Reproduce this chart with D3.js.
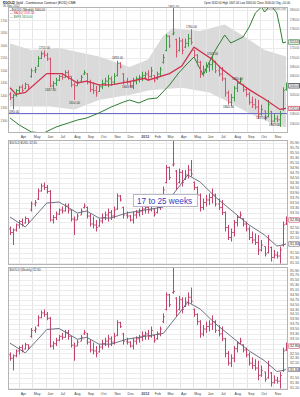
<!DOCTYPE html>
<html><head><meta charset="utf-8">
<script src="https://cdn.jsdelivr.net/npm/d3@7/dist/d3.min.js"></script>
<style>
body{margin:0;background:#fff}
svg{display:block}
text{font-family:"Liberation Sans",Arial,sans-serif}
</style>
</head><body>
<svg id="c" width="300" height="397"></svg>
<script>
// ---------------- DATA (weekly bars) ----------------
const opens  = [1622,1615,1620,1630,1637,1634,1643,1660,1672,1682,1698,1708,1705,1697,1640,1645,1652,1660,1658,1668,1660,1642,1640,1650,1665,1665,1648,1632,1630,1628,1638,1645,1650,1655,1648,1662,1688,1665,1650,1648,1640,1650,1655,1658,1662,1665,1660,1662,1655,1665,1690,1715,1745,1750,1738,1715,1735,1722,1730,1740,1715,1705,1690,1665,1675,1680,1685,1690,1672,1665,1655,1625,1605,1615,1635,1645,1643,1632,1622,1605,1600,1595,1580,1587,1575,1585,1565,1570,1568,1590,1632];
const highs  = [1627,1623,1633,1640,1643,1647,1643,1677,1680,1703,1713,1715,1710,1700,1650,1657,1663,1667,1673,1673,1660,1647,1653,1663,1673,1667,1653,1647,1640,1643,1653,1657,1663,1660,1667,1693,1690,1667,1657,1650,1657,1660,1663,1670,1670,1673,1680,1663,1670,1680,1707,1750,1747,1805,1740,1743,1740,1740,1750,1760,1717,1707,1693,1683,1690,1693,1703,1693,1683,1680,1657,1630,1623,1640,1650,1657,1643,1637,1627,1617,1613,1610,1600,1587,1610,1587,1580,1577,1587,1637,1647];
const lows   = [1610,1590,1617,1623,1627,1633,1633,1657,1667,1680,1697,1700,1693,1637,1633,1640,1650,1653,1657,1653,1637,1610,1640,1650,1663,1643,1627,1623,1617,1627,1633,1640,1637,1640,1643,1660,1677,1643,1643,1637,1633,1643,1647,1650,1653,1653,1657,1647,1653,1660,1687,1713,1720,1747,1700,1713,1707,1720,1723,1727,1700,1683,1657,1660,1667,1670,1673,1667,1660,1650,1617,1600,1597,1607,1627,1643,1627,1617,1600,1593,1590,1570,1577,1567,1573,1557,1563,1563,1553,1587,1630];
const closes = [1615,1620,1630,1637,1630,1643,1638,1672,1675,1698,1708,1705,1697,1640,1645,1652,1660,1658,1668,1660,1642,1640,1648,1658,1668,1648,1632,1630,1625,1638,1645,1650,1655,1648,1660,1688,1680,1650,1648,1640,1650,1655,1658,1662,1665,1660,1672,1652,1665,1675,1700,1745,1725,1752,1712,1735,1715,1730,1740,1732,1705,1690,1665,1675,1680,1685,1690,1672,1665,1655,1625,1605,1615,1635,1645,1650,1632,1622,1605,1600,1595,1580,1590,1572,1600,1565,1570,1568,1580,1630,1640];
const firstWeek = new Date(2011, 2, 11);

// moving averages as [bar index, value]
const maTop   = [[0,1636],[2,1622],[5,1626],[12,1666],[17,1666],[22,1646],[25,1650],[29,1642],[33,1642],[38,1648],[44,1656],[45,1652],[52,1666],[56,1682],[60,1722],[66,1696],[69,1676],[75,1646],[78,1632],[83,1612],[88,1590],[90,1592]];
const maLower = [[0,1646],[5,1626],[12,1674],[16,1676],[22,1654],[25,1658],[29,1644],[33,1644],[38,1654],[44,1660],[50,1666],[58,1730],[62,1716],[67,1686],[74,1650],[78,1630],[83,1610],[87,1588],[89,1590],[90,1592]];
// comparison line ($SPX) as [bar index, value]
const spx = [[0,1310],[3,1282],[7,1254],[11,1250],[15,1274],[19,1290],[22,1302],[25,1310],[29,1330],[33,1354],[37,1374],[39,1382],[42,1370],[45,1386],[48,1390],[52,1442],[55,1490],[58,1530],[60,1554],[63,1482],[65,1534],[67,1582],[70,1642],[72,1610],[76,1634],[78,1674],[80,1730],[82,1754],[83,1734],[85,1762],[87,1730],[88,1674],[89,1610],[90,1614]];
// price envelope as [bar index, value]
const bandUpper = [[0,1730],[7,1716],[16,1720],[29,1702],[39,1680],[45,1696],[50,1746],[53,1762],[62,1756],[70,1770],[76,1746],[83,1716],[90,1702]];
const bandLower = [[0,1596],[13,1596],[21,1590],[29,1610],[40,1622],[45,1630],[56,1636],[65,1626],[70,1610],[78,1582],[87,1556],[90,1552]];
const supportLevel = 1582;
const highLabelIdx = [11,35,53,59,66,74];
const lowLabelIdx  = [1,13,21,38,71,82,86];
const priceTicks = [1560,1580,1600,1620,1640,1660,1680,1700,1720,1740,1760,1780,1800];
const lowerTicks = [1555,1565,1575,1585,1595,1605,1615,1625,1635,1645,1655,1665,1675,1685,1695,1705,1715,1725,1735,1745,1755,1765,1775,1785,1795];
const spxTicks = [1300,1350,1400,1450,1500,1550,1600,1650,1700];
const annotation = "17 to 25 weeks";

// ---------------- DRAWING ----------------
const svg = d3.select("#c");
const n = closes.length;
const dates = d3.range(n).map(i => d3.timeWeek.offset(firstWeek, i));
const L = 8, R = 288;
const x = d3.scaleTime().domain([dates[0], dates[n-1]]).range([10, 286]);
const months = d3.timeMonth.range(d3.timeMonth.ceil(dates[0]), dates[n-1]);
const fmtM = d3.timeFormat("%b");
const fmt2 = d3.format(".2f");
const xi = i => Math.round(x(dates[i])) + 0.5;
const lastMA1 = maTop[maTop.length-1][1], lastMA2 = maLower[maLower.length-1][1];
const lastSpx = spx[spx.length-1][1];

const panels = [
  {top:7,   bottom:133, y:d3.scaleLinear().domain([1540,1805]).range([133,8])},
  {top:140, bottom:265, y:d3.scaleLinear().domain([1550,1800]).range([265,140])},
  {top:267, bottom:390, y:d3.scaleLinear().domain([1550,1800]).range([390,268])}
];
const ySpx = d3.scaleLinear().domain([1250,1750]).range([133,8]);

function rightText(g, yy, t, size, fill) {
  return g.append("text").attr("x", R + 1.8).attr("y", yy + 1.1)
    .attr("font-size", size).attr("fill", fill)
    .attr("textLength", 9.4).attr("lengthAdjust", "spacingAndGlyphs").text(t);
}

panels.forEach((p, k) => {
  const g = svg.append("g");
  const cid = "clip" + k;
  svg.append("clipPath").attr("id", cid).append("rect")
    .attr("x", L).attr("y", p.top).attr("width", R - L).attr("height", p.bottom - p.top);
  g.selectAll(".vg").data(months).join("line")
    .attr("x1", d => Math.round(x(d)) + 0.5).attr("x2", d => Math.round(x(d)) + 0.5)
    .attr("y1", p.top).attr("y2", p.bottom).attr("stroke", "#e4e4e4");
  const ticks = k === 0 ? priceTicks : lowerTicks;
  g.selectAll(".hg").data(ticks).join("line")
    .attr("x1", L).attr("x2", R)
    .attr("y1", d => Math.round(p.y(d)) + 0.5).attr("y2", d => Math.round(p.y(d)) + 0.5)
    .attr("stroke", "#ececec");
  const boxYs = k === 0 ? [p.y(closes[n-1]), p.y(lastMA1), ySpx(lastSpx)] : [p.y(closes[n-1]), p.y(lastMA2)];
  ticks.forEach(d => {
    const yy = p.y(d);
    if (boxYs.some(b => Math.abs(b - yy) < 4.6)) return;
    if (yy < p.top + 1.5 || yy > p.bottom - 1.5) return;
    rightText(g, yy, k === 0 ? fmt2(d) : fmt2(d / 50), k === 0 ? 3.2 : 3.0, "#555");
  });
  p.g = g; p.clip = "url(#" + cid + ")";
});

// ---- panel 1 ----
const p1 = panels[0], y1 = p1.y;
const c1 = p1.g.append("g").attr("clip-path", p1.clip);
const bandPts = bandUpper.map(d => [x(dates[d[0]]), y1(d[1])])
  .concat(bandLower.slice().reverse().map(d => [x(dates[d[0]]), y1(d[1])]));
c1.append("path").attr("d", d3.line()(bandPts) + "Z").attr("fill", "#dadada");
c1.selectAll(".vg2").data(months).join("line")
  .attr("x1", d => Math.round(x(d)) + 0.5).attr("x2", d => Math.round(x(d)) + 0.5)
  .attr("y1", p1.top).attr("y2", p1.bottom).attr("stroke", "#eeeeee").attr("stroke-opacity", 0.35);
c1.append("line").attr("x1", L).attr("x2", R)
  .attr("y1", Math.round(y1(supportLevel)) + 0.5).attr("y2", Math.round(y1(supportLevel)) + 0.5)
  .attr("stroke", "#6b6bd0").attr("stroke-width", 1);
c1.append("path").datum(spx)
  .attr("d", d3.line().x(d => x(dates[d[0]])).y(d => ySpx(d[1])))
  .attr("fill", "none").attr("stroke", "#2f7d32").attr("stroke-width", 1);
c1.selectAll(".bar").data(d3.range(n)).join("path")
  .attr("d", i => { const xx = xi(i); return `M${xx},${y1(highs[i])}V${y1(lows[i])}M${xx-1.3},${y1(opens[i])}H${xx}M${xx},${y1(closes[i])}H${xx+1.3}`; })
  .attr("stroke", i => closes[i] >= opens[i] ? "#3f9a45" : "#d4566e").attr("stroke-width", 1).attr("fill", "none");
c1.append("path").datum(maTop)
  .attr("d", d3.line().x(d => x(dates[d[0]])).y(d => y1(d[1])))
  .attr("fill", "none").attr("stroke", "#d0304c").attr("stroke-width", 1.3);
p1.g.selectAll(".hl").data(highLabelIdx).join("text")
  .attr("x", i => xi(i)).attr("y", i => Math.max(7.5, y1(highs[i]) - 1.5))
  .attr("text-anchor", "middle").attr("font-size", 3.1).attr("fill", "#333")
  .text(i => fmt2(highs[i]));
p1.g.selectAll(".ll").data(lowLabelIdx).join("text")
  .attr("x", i => xi(i)).attr("y", i => Math.min(131.8, y1(lows[i]) + 3.8))
  .attr("text-anchor", "middle").attr("font-size", 3.1).attr("fill", "#333")
  .text(i => fmt2(lows[i]));
p1.g.selectAll(".sl").data(spxTicks).join("text")
  .attr("x", 0.5).attr("y", d => ySpx(d) + 1.1)
  .attr("font-size", 2.9).attr("fill", "#666")
  .attr("textLength", 6.8).attr("lengthAdjust", "spacingAndGlyphs").text(d => d);

// ---- panels 2 and 3 ----
[1, 2].forEach(k => {
  const p = panels[k], y = p.y;
  const c = p.g.append("g").attr("clip-path", p.clip);
  c.selectAll(".bar").data(d3.range(n)).join("path")
    .attr("d", i => { const xx = xi(i); return `M${xx},${y(highs[i])}V${y(lows[i])}M${xx-1.3},${y(opens[i])}H${xx}M${xx},${y(closes[i])}H${xx+1.3}`; })
    .attr("stroke", "#c2446c").attr("stroke-width", 1).attr("fill", "none");
  c.append("path").datum(maLower)
    .attr("d", d3.line().x(d => x(dates[d[0]])).y(d => y(d[1])))
    .attr("fill", "none").attr("stroke", "#5e6378").attr("stroke-width", 0.9);
  [[closes[n-1], "#c2446c"], [lastMA2, "#5e6378"]].forEach(([v, col]) => {
    p.g.append("rect").attr("x", R + 0.8).attr("y", y(v) - 2.2).attr("width", 10.6).attr("height", 4.4)
      .attr("fill", "#fff").attr("stroke", col).attr("stroke-width", 0.6);
    rightText(p.g, y(v), fmt2(v / 50), 3.0, "#222");
  });
});

// panel 1 last-value boxes
[[closes[n-1], y1, "#333"], [lastMA1, y1, "#d0304c"], [lastSpx, ySpx, "#2f7d32"]].forEach(([v, sc, col]) => {
  p1.g.append("rect").attr("x", R + 0.8).attr("y", sc(v) - 2.2).attr("width", 10.6).attr("height", 4.4)
    .attr("fill", "#fff").attr("stroke", col).attr("stroke-width", 0.7);
  rightText(p1.g, sc(v), fmt2(v), 3.2, "#111");
});

// annotation in panel 2
const ann = svg.append("g");
ann.append("rect").attr("x", 133.5).attr("y", 194.5).attr("width", 64).attr("height", 12)
  .attr("fill", "#fff").attr("stroke", "#b8b8c8").attr("stroke-width", 1);
ann.append("text").attr("x", 137).attr("y", 203.8).attr("font-size", 8.2).attr("fill", "#3a3ac0").text(annotation);

// panel borders
panels.forEach(p => {
  svg.append("rect").attr("x", L + 0.5).attr("y", p.top + 0.5).attr("width", R - L - 1).attr("height", p.bottom - p.top - 1)
    .attr("fill", "none").attr("stroke", "#b4b4b4").attr("stroke-width", 1);
});

// x axis labels
[137.8, 395.2].forEach(yy => {
  svg.append("g").selectAll("text").data(months).join("text")
    .attr("x", d => x(d) + 1.5).attr("y", yy)
    .attr("font-size", 3.6).attr("fill", "#444")
    .attr("font-weight", d => d.getMonth() === 0 ? "bold" : "normal")
    .text(d => d.getMonth() === 0 ? d.getFullYear() : fmtM(d));
});

// headers
const hdr = svg.append("g");
const last = n - 1;
hdr.append("text").attr("x", 3).attr("y", 3.6).attr("font-size", 3.4).attr("fill", "#111")
  .html('<tspan font-weight="bold">$GOLD</tspan> Gold - Continuous Contract (EOD) CME');
hdr.append("text").attr("x", 3).attr("y", 7).attr("font-size", 2.9).attr("fill", "#444").text("30-Nov-2012");
hdr.append("text").attr("x", 10).attr("y", 11).attr("font-size", 2.9).attr("fill", "#222")
  .text("\u25AA $GOLD (Weekly) " + fmt2(closes[last]));
hdr.append("text").attr("x", 10).attr("y", 14.4).attr("font-size", 2.9).attr("fill", "#d0304c")
  .text("\u2014 MA(10) " + fmt2(lastMA1));
hdr.append("text").attr("x", 10).attr("y", 17.8).attr("font-size", 2.9).attr("fill", "#2f7d32")
  .text("\u2014 $SPX " + fmt2(lastSpx));
hdr.append("text").attr("x", 290).attr("y", 3.6).attr("text-anchor", "end").attr("font-size", 2.8).attr("fill", "#222")
  .text(`Open ${fmt2(opens[last])} High ${fmt2(highs[last])} Low ${fmt2(lows[last])} Close ${fmt2(closes[last])} Chg +${fmt2(closes[last]-closes[last-1])}`);
hdr.append("text").attr("x", 286).attr("y", 10).attr("text-anchor", "end").attr("font-size", 2.6).attr("fill", "#777")
  .text("@StockCharts.com");
hdr.append("text").attr("x", 9.5).attr("y", 143.5).attr("font-size", 3).attr("fill", "#444")
  .text("$GOLD:$USD " + fmt2(closes[last] / 50));
hdr.append("text").attr("x", 9.5).attr("y", 270.5).attr("font-size", 3).attr("fill", "#444")
  .text("$GOLD (Weekly) " + fmt2(closes[last] / 50));
</script>
</body></html>
